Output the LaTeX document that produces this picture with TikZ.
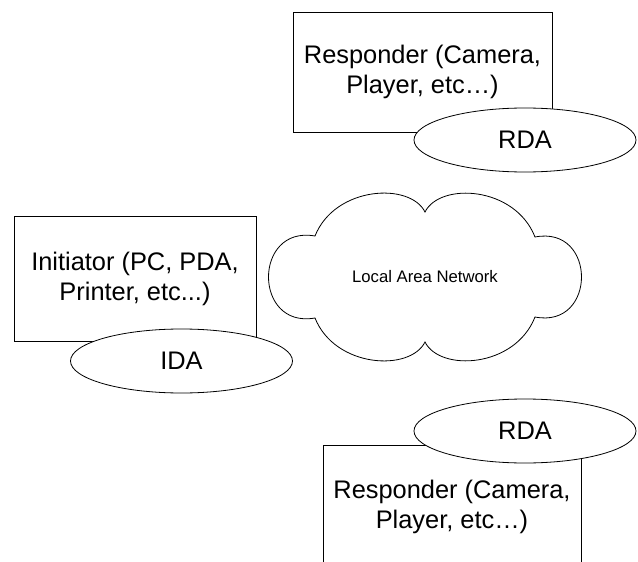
\documentclass[tikz,border=0pt]{standalone}
\usepackage{fontspec}
\setmainfont{Liberation Sans}
\usetikzlibrary{shapes.geometric}
\tikzset{
  device/.style={draw, rectangle, align=center, inner sep=0pt, font=\fontsize{25.4}{30}\selectfont},
  agent/.style={draw, ellipse, fill=white, minimum width=222pt, minimum height=64pt, inner sep=0pt, font=\fontsize{25.4}{30}\selectfont},
}
\begin{document}
\begin{tikzpicture}[x=1pt,y=-1pt,line width=0.8pt]
	\useasboundingbox (0,0) rectangle (638,562);
	% devices
	\node[device, minimum width=259pt, minimum height=120pt] (resptop) at (422.5,72) {Responder (Camera,\\Player, etc…)};
	\node[device, minimum width=242pt, minimum height=125pt] (init) at (135,279) {Initiator (PC, PDA,\\Printer, etc...)};
	\node[device, minimum width=258pt, minimum height=124pt] (respbot) at (452,507) {Responder (Camera,\\Player, etc…)};
	% agents
	\node[agent] (rdatop) at (525,140) {RDA};
	\node[agent] (ida) at (181.5,361) {IDA};
	\node[agent] (rdabot) at (525,431) {RDA};
	% network cloud
	\draw (315,236) .. controls (335,186) and (410,182) .. (425,212)
		.. controls (440,182) and (515,186) .. (535,237)
		.. controls (597,225) and (597,329) .. (535,317)
		.. controls (515,368) and (440,372) .. (425,342)
		.. controls (410,372) and (335,368) .. (315,318)
		.. controls (253,329) and (253,225) .. (315,236) -- cycle;
	\node[font=\fontsize{16.7}{20}\selectfont] (lan) at (425,277) {Local Area Network};
\end{tikzpicture}
\end{document}
